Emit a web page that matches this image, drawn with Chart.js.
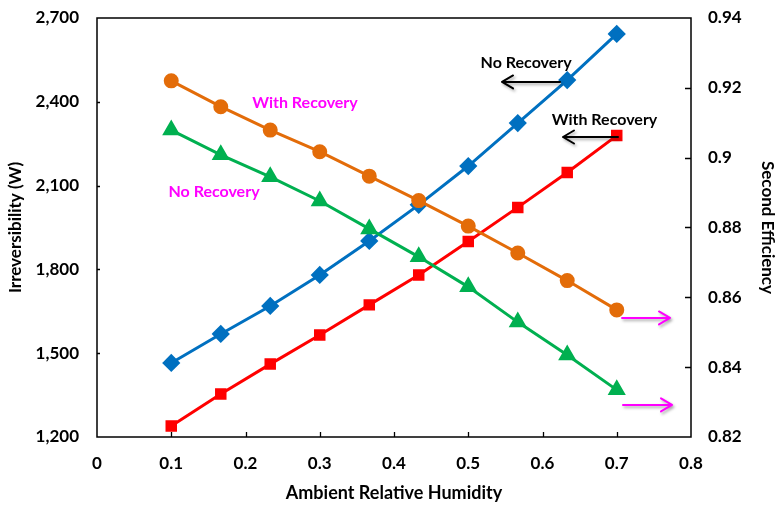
<!DOCTYPE html>
<html>
<head>
<meta charset="utf-8">
<script src="https://cdn.jsdelivr.net/npm/chart.js@4/dist/chart.umd.min.js"></script>
<style>
  html, body { margin: 0; padding: 0; background: #ffffff; }
  #wrap { width: 778px; height: 505px; }
</style>
</head>
<body>
<div id="wrap"><canvas id="c" width="778" height="505"></canvas></div>
<script>
// Ambient relative humidity (x values)
const humidity = [0.1, 0.1667, 0.2333, 0.3, 0.3667, 0.4333, 0.5, 0.5667, 0.6333, 0.7];

// Irreversibility (W), left axis
const irrevNoRecovery   = [1465, 1569, 1669, 1780, 1902, 2031, 2170, 2324, 2478, 2643];
const irrevWithRecovery = [1239, 1354, 1461, 1565, 1673, 1780, 1900, 2022, 2147, 2279];

// Second-law efficiency, right axis
const effWithRecovery = [0.9220, 0.9146, 0.9079, 0.9017, 0.8947, 0.8877, 0.8804, 0.8727, 0.8648, 0.8564];
const effNoRecovery   = [0.9079, 0.9008, 0.8945, 0.8876, 0.8796, 0.8716, 0.8630, 0.8529, 0.8435, 0.8335];

// Axis tick values
const xTicks = [0, 0.1, 0.2, 0.3, 0.4, 0.5, 0.6, 0.7, 0.8];
const leftTicks = [1200, 1500, 1800, 2100, 2400, 2700];
const rightTicks = [0.82, 0.84, 0.86, 0.88, 0.9, 0.92, 0.94];

// Callout labels (data coordinates)
const labelTexts = ['No Recovery', 'With Recovery', 'With Recovery', 'No Recovery'];
const labelColors = ['#000000', '#000000', '#FF00FF', '#FF00FF'];
const labelX = [0.578, 0.6835, 0.2801, 0.1576];
const labelY = [2539, 2335, 2396, 2077];

// Arrows: [x from, x to], y on given axis
const arrowFromX = [0.6236, 0.7017, 0.7071, 0.7084];
const arrowToX   = [0.5455, 0.6276, 0.7717, 0.7744];
const arrowY     = [2471, 2274, 0.8541, 0.8292];
const arrowAxis  = ['y', 'y', 'y1', 'y1'];
const arrowColor = ['#000000', '#000000', '#FF00FF', '#FF00FF'];

const FONT = 'Lato, "Open Sans", sans-serif';

function pts(ys) { return humidity.map((x, i) => ({ x: x, y: ys[i] })); }

const framePlugin = {
  id: 'frame',
  afterDatasetsDraw(chart) {
    const { ctx, chartArea: a, scales } = chart;
    ctx.save();
    ctx.strokeStyle = '#000000';
    ctx.lineWidth = 1.5;
    ctx.strokeRect(a.left, a.top, a.right - a.left, a.bottom - a.top);
    ctx.lineWidth = 1.3;
    ctx.beginPath();
    xTicks.slice(1, -1).forEach(v => {
      const px = Math.round(scales.x.getPixelForValue(v)) + 0.5;
      ctx.moveTo(px, a.bottom);
      ctx.lineTo(px, a.bottom - 5);
    });
    rightTicks.slice(1, -1).forEach(v => {
      const py = Math.round(scales.y1.getPixelForValue(v)) + 0.5;
      ctx.moveTo(a.right, py);
      ctx.lineTo(a.right - 6, py);
    });
    leftTicks.slice(1, -1).forEach(v => {
      const py = Math.round(scales.y.getPixelForValue(v)) + 0.5;
      ctx.moveTo(a.left, py);
      ctx.lineTo(a.left + 3, py);
    });
    ctx.stroke();

    // arrows
    arrowFromX.forEach((fx, i) => {
      const sc = scales[arrowAxis[i]];
      const x0 = scales.x.getPixelForValue(fx);
      const x1 = scales.x.getPixelForValue(arrowToX[i]);
      const y = sc.getPixelForValue(arrowY[i]);
      const dir = x1 < x0 ? 1 : -1;
      ctx.save();
      ctx.shadowColor = 'rgba(0,0,0,0.35)';
      ctx.shadowBlur = 3;
      ctx.shadowOffsetX = 1.5;
      ctx.shadowOffsetY = 2;
      ctx.strokeStyle = arrowColor[i];
      ctx.lineWidth = 2;
      ctx.lineCap = 'round';
      ctx.lineJoin = 'round';
      ctx.beginPath();
      ctx.moveTo(x0, y);
      ctx.lineTo(x1, y);
      ctx.moveTo(x1 + dir * 11, y - 6.5);
      ctx.lineTo(x1, y);
      ctx.lineTo(x1 + dir * 11, y + 6.5);
      ctx.stroke();
      ctx.restore();
    });

    // callout labels
    ctx.font = 'bold 16px ' + FONT;
    ctx.textAlign = 'center';
    ctx.textBaseline = 'middle';
    labelTexts.forEach((t, i) => {
      ctx.fillStyle = labelColors[i];
      ctx.fillText(t, scales.x.getPixelForValue(labelX[i]), scales.y.getPixelForValue(labelY[i]));
    });
    ctx.restore();
  }
};

function trimNum(v, d) { return String(Number(Number(v).toFixed(d))); }
function noVPad(s) { s.paddingTop = 0; s.paddingBottom = 0; }

const tickFont = { family: FONT, size: 17, weight: 'bold' };
const titleFont = { family: FONT, size: 17, weight: 'bold' };

new Chart(document.getElementById('c'), {
  type: 'line',
  data: {
    datasets: [
      {
        label: 'Irreversibility, No Recovery',
        data: pts(irrevNoRecovery), yAxisID: 'y',
        borderColor: '#0070C0', backgroundColor: '#0070C0',
        borderWidth: 3, pointStyle: 'rectRot', pointRadius: 7, order: 4
      },
      {
        label: 'Irreversibility, With Recovery',
        data: pts(irrevWithRecovery), yAxisID: 'y',
        borderColor: '#FF0000', backgroundColor: '#FF0000',
        borderWidth: 3, pointStyle: 'rect', pointRadius: 6, order: 3
      },
      {
        label: 'Efficiency, With Recovery',
        data: pts(effWithRecovery), yAxisID: 'y1',
        borderColor: '#E36C09', backgroundColor: '#E36C09',
        borderWidth: 3, pointStyle: 'circle', pointRadius: 6, order: 2
      },
      {
        label: 'Efficiency, No Recovery',
        data: pts(effNoRecovery), yAxisID: 'y1',
        borderColor: '#00B050', backgroundColor: '#00B050',
        borderWidth: 3, pointStyle: 'triangle', pointRadius: 7.5, order: 1
      }
    ]
  },
  options: {
    responsive: false,
    animation: false,
    devicePixelRatio: 1,
    layout: { padding: { top: 18, left: 0, right: 0, bottom: 0 } },
    plugins: { legend: { display: false }, tooltip: { enabled: false } },
    elements: { line: { tension: 0 }, point: { borderWidth: 1 } },
    scales: {
      x: {
        type: 'linear', min: 0, max: 0.8,
        afterFit(s) { s.height = 68; },
        afterBuildTicks(s) { s.ticks = xTicks.map(v => ({ value: v })); },
        grid: { display: false, drawTicks: false },
        border: { display: false },
        ticks: {
          padding: 16, color: '#000', maxRotation: 0,
          font: tickFont,
          callback: v => trimNum(v, 1)
        },
        title: {
          display: true, text: 'Ambient Relative Humidity', color: '#000',
          font: { family: FONT, size: 18, weight: 'bold' },
          padding: { top: 0, bottom: 1 }
        }
      },
      y: {
        type: 'linear', position: 'left', min: 1200, max: 2700,
        afterFit(s) { s.width = 97; noVPad(s); },
        afterBuildTicks(s) { s.ticks = leftTicks.map(v => ({ value: v })); },
        grid: { display: false, drawTicks: false },
        border: { display: false },
        ticks: {
          padding: 18, color: '#000',
          font: tickFont,
          callback: v => Number(v).toLocaleString('en-US')
        },
        title: {
          display: true, text: 'Irreversibility (W)', color: '#000',
          font: titleFont,
          padding: { top: 5, bottom: 0 }
        }
      },
      y1: {
        type: 'linear', position: 'right', min: 0.82, max: 0.94,
        afterFit(s) { s.width = 87; noVPad(s); },
        afterBuildTicks(s) { s.ticks = rightTicks.map(v => ({ value: v })); },
        grid: { display: false, drawTicks: false },
        border: { display: false },
        ticks: {
          padding: 17, color: '#000',
          font: tickFont,
          callback: v => trimNum(v, 2)
        },
        title: {
          display: true, text: 'Second Efficiency', color: '#000',
          font: titleFont,
          padding: { top: 0, bottom: 0 }
        }
      }
    }
  },
  plugins: [framePlugin]
});
</script>
</body>
</html>
